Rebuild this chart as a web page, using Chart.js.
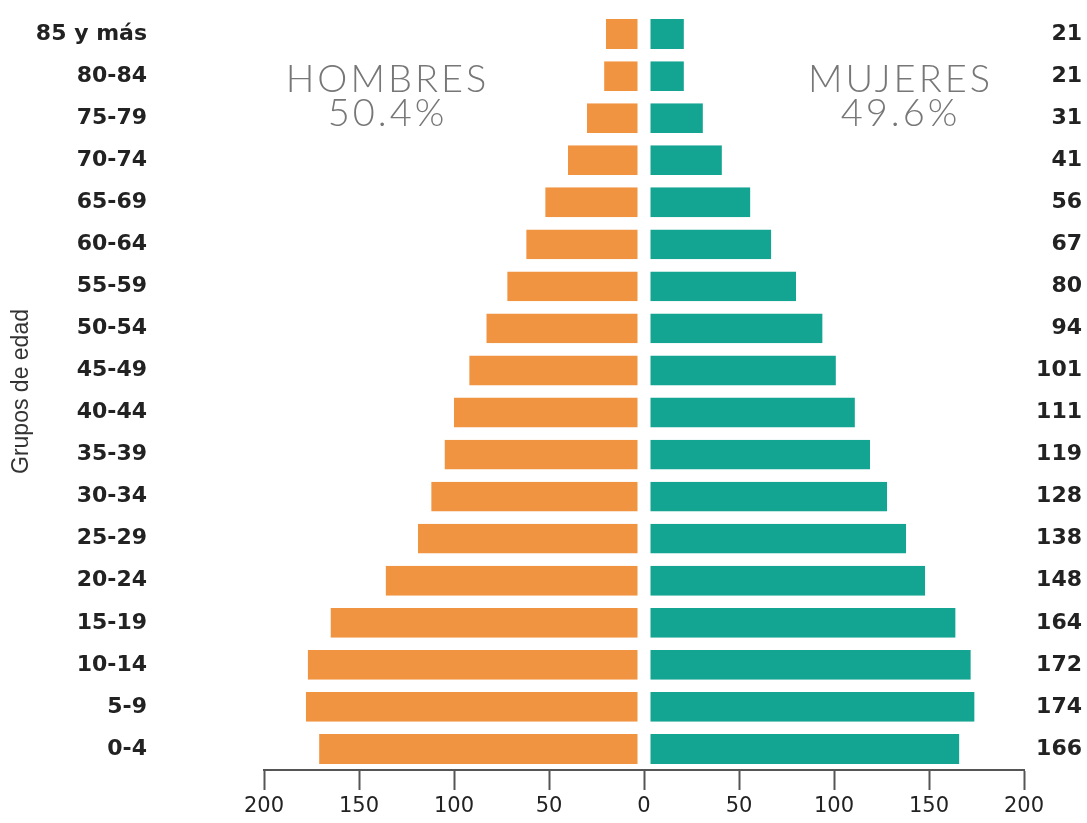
<!DOCTYPE html>
<html>
<head>
<meta charset="utf-8">
<script src="https://cdn.jsdelivr.net/npm/chart.js@4"></script>
<style>
  html, body { margin: 0; background: #fff; }
  #wrap { width: 1087px; height: 823px; position: relative; }
</style>
</head>
<body>
<div id="wrap"><canvas id="piramide"></canvas></div>
<script>
// Grupos de edad, de arriba abajo
var grupos = ['85 y más', '80-84', '75-79', '70-74', '65-69', '60-64', '55-59', '50-54', '45-49',
  '40-44', '35-39', '30-34', '25-29', '20-24', '15-19', '10-14', '5-9', '0-4'];
var hombres = [20, 21, 30, 40, 52, 62, 72, 83, 92, 100, 105, 112, 119, 136, 165, 177, 178, 171];
var mujeres = [21, 21, 31, 41, 56, 67, 80, 94, 101, 111, 119, 128, 138, 148, 164, 172, 174, 166];
var ticksX = [-200, -150, -100, -50, 0, 50, 100, 150, 200];

var naranja = '#f09441';
var verde = '#13a592';

// Rótulos "HOMBRES 50.4%" y "MUJERES 49.6%"
var rotulos = {
  id: 'rotulos',
  afterDraw: function(chart) {
    var ctx = chart.ctx;
    var x = chart.scales.x;
    var top = chart.chartArea.top;
    ctx.save();
    ctx.font = '300 38px Lato';
    ctx.fillStyle = '#777777';
    ctx.textAlign = 'center';
    ctx.textBaseline = 'alphabetic';
    ctx.letterSpacing = '3px';
    ctx.fillText('HOMBRES', x.getPixelForValue(-135), top + 79);
    ctx.fillText('50.4%', x.getPixelForValue(-135), top + 113);
    ctx.fillText('MUJERES', x.getPixelForValue(135), top + 79);
    ctx.fillText('49.6%', x.getPixelForValue(135), top + 113);
    ctx.restore();
  }
};

// el padding de los ticks no debe comerse el alto del área
function sinMargenes(ancho) {
  return function(scale) {
    scale.width = ancho;
    scale.paddingTop = 0;
    scale.paddingBottom = 0;
  };
}

var ctx = document.getElementById('piramide').getContext('2d');
var grafico = new Chart(ctx, {
  type: 'bar',
  data: {
    labels: grupos,
    datasets: [
      {
        label: 'Hombres',
        data: hombres.map(function(v) { return -v; }),
        backgroundColor: naranja,
        borderColor: '#ffffff',
        borderWidth: { top: 0, bottom: 0, left: 0, right: 6 },
        borderSkipped: false
      },
      {
        label: 'Mujeres',
        data: mujeres,
        backgroundColor: verde,
        borderColor: '#ffffff',
        borderWidth: { top: 0, bottom: 0, left: 6, right: 0 },
        borderSkipped: false
      }
    ]
  },
  options: {
    indexAxis: 'y',
    responsive: true,
    maintainAspectRatio: false,
    animation: false,
    layout: { padding: { top: 13, left: 0, right: 5, bottom: 0 } },
    datasets: {
      bar: { categoryPercentage: 1, barPercentage: 0.71 }
    },
    scales: {
      x: {
        type: 'linear',
        stacked: true,
        min: -200,
        max: 200,
        afterBuildTicks: function(scale) {
          scale.ticks = ticksX.map(function(v) { return { value: v }; });
        },
        afterFit: function(scale) {
          scale.height = 53;
          scale.paddingLeft = 0;
          scale.paddingRight = 0;
        },
        grid: {
          drawOnChartArea: false,
          drawTicks: true,
          tickLength: 20,
          tickWidth: 2,
          color: '#555555'
        },
        border: { display: true, color: '#555555', width: 2 },
        ticks: {
          padding: 4,
          color: '#222222',
          font: { family: 'DejaVu Sans', size: 21 },
          callback: function(v) { return Math.abs(v); }
        }
      },
      y: {
        type: 'category',
        stacked: true,
        afterFit: sinMargenes(264),
        grid: { display: false, drawTicks: false, tickLength: 0 },
        border: { display: false },
        ticks: {
          padding: 117,
          color: '#222222',
          font: { family: 'DejaVu Sans', size: 22, weight: 'bold' }
        },
        title: {
          display: true,
          text: 'Grupos de edad',
          color: '#333333',
          font: { family: 'Liberation Sans', size: 23 },
          padding: { top: 8, bottom: 0 }
        }
      },
      y2: {
        type: 'category',
        position: 'right',
        labels: mujeres.map(String),
        offset: true,
        afterFit: sinMargenes(58),
        grid: { display: false, drawTicks: false, tickLength: 0 },
        border: { display: false },
        ticks: {
          padding: 6,
          crossAlign: 'far',
          color: '#222222',
          font: { family: 'DejaVu Sans', size: 22, weight: 'bold' }
        }
      }
    },
    plugins: {
      legend: { display: false },
      tooltip: { enabled: false },
      title: { display: false }
    }
  },
  plugins: [rotulos]
});
</script>
</body>
</html>
